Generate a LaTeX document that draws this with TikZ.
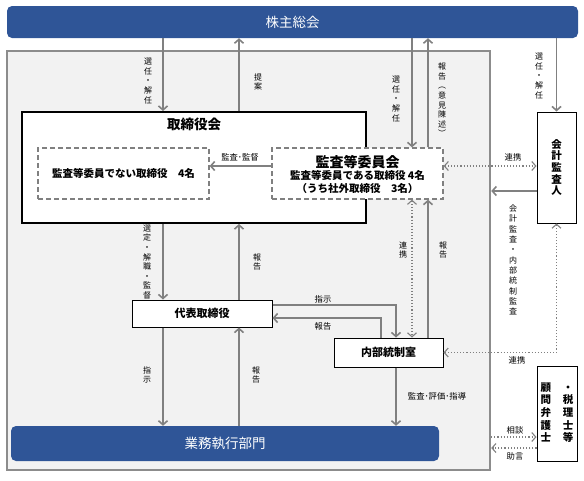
\documentclass[tikz,border=0pt]{standalone}
\usepackage{fontspec}
\setmainfont{Noto Sans CJK JP}
\usetikzlibrary{arrows.meta}
\definecolor{soukaiblue}{RGB}{47,85,151}
\definecolor{sengray}{RGB}{128,128,128}
\definecolor{wakugray}{RGB}{140,140,140}
\definecolor{wakubg}{RGB}{242,242,242}

\begin{document}
\begin{tikzpicture}[x=1pt,y=-1pt,
  aobox/.style={fill=soukaiblue,rounded corners=5pt,text=white,inner sep=0pt,font=\fontsize{13.5}{16}\selectfont},
  kurobox/.style={draw,line width=1pt,fill=white,inner sep=0pt,font=\bfseries\fontsize{11}{13}\selectfont},
  tenbox/.style={draw=sengray,dash pattern=on 5pt off 3pt,line width=1.3pt,fill=white,inner sep=0pt},
  ya/.style={draw=sengray,line width=1.6pt,-{Straight Barb[length=4pt,width=9pt]}},
  tenya/.style={draw=sengray,line width=1.1pt,dotted},
  moji/.style={inner sep=0pt,align=center,font=\fontsize{8}{9.6}\selectfont},
  yokomoji/.style={inner sep=0pt,font=\fontsize{8.3}{10}\selectfont}]
  \useasboundingbox (0,0) rectangle (584,480);

  \node[draw=wakugray,line width=2.5pt,fill=wakubg,minimum width=483pt,minimum height=419pt,inner sep=0pt] (kaisha) at (248.5,260.5) {};
  \node[aobox,minimum width=571pt,minimum height=32pt] (soukai) at (292.5,22) {株主総会};
  \node[draw,line width=2pt,fill=white,minimum width=344pt,minimum height=111pt,inner sep=0pt] (torikai) at (194,167.5) {};
  \node[inner sep=0pt,font=\bfseries\fontsize{13.5}{16}\selectfont] (torititle) at (194,124) {取締役会};
  \node[tenbox,minimum width=171pt,minimum height=51pt,font=\bfseries\fontsize{10.5}{13}\selectfont] (hikansa) at (123.5,173.5) {監査等委員でない取締役　4名};
  \node[tenbox,minimum width=171pt,minimum height=51pt] (kansaiin) at (357.5,173.5) {};
  \node[inner sep=0pt,align=center,font=\bfseries\fontsize{10.5}{12.5}\selectfont] (kansaitext) at (357.5,174) {{\fontsize{14}{16}\selectfont 監査等委員会}\\監査等委員である取締役 4名\\（うち社外取締役　3名）};
  \node[kurobox,minimum width=39pt,minimum height=111pt,align=center,font=\bfseries\fontsize{10.5}{11.7}\selectfont] (kaikei) at (556.5,167.5) {会\\計\\監\\査\\人};
  \node[kurobox,minimum width=140pt,minimum height=27pt] (daihyo) at (202,313.5) {代表取締役};
  \node[kurobox,minimum width=109pt,minimum height=29pt] (naibu) at (388.5,352.5) {内部統制室};
  \node[aobox,minimum width=428pt,minimum height=35pt] (gyomu) at (225,443.5) {業務執行部門};
  \node[kurobox,minimum width=40pt,minimum height=95pt,font=\bfseries\fontsize{10.5}{11.7}\selectfont] (komon) at (557,414)
    {\begin{tabular}{@{}c@{\hspace{12pt}}c@{}}顧&・\\問&税\\弁&理\\護&士\\士&等\end{tabular}};

  \coordinate (xa) at (163,0);
  \coordinate (xb) at (239,0);
  \coordinate (xc) at (396,0);
  \coordinate (xd) at (412,0);
  \coordinate (xe) at (428,0);
  \coordinate (xf) at (381,0);
  \coordinate (ya) at (0,166);
  \coordinate (yb) at (0,191);
  \coordinate (yc) at (0,305);
  \coordinate (yd) at (0,318);
  \coordinate (ye) at (0,437);
  \coordinate (yf) at (0,448);

  \draw[ya] (soukai.south -| xa) -- (torikai.north -| xa);
  \draw[ya] (torikai.north -| xb) -- (soukai.south -| xb);
  \draw[ya] (soukai.south -| xd) -- (kansaiin.north -| xd);
  \draw[ya] (kansaiin.north -| xe) -- (soukai.south -| xe);
  \draw[ya] (soukai.south -| kaikei) -- (kaikei.north);
  \draw[ya] (kansaiin.west |- ya) -- (hikansa.east |- ya);
  \draw[ya] (kaikei.west |- yb) -- (kaisha.east |- yb);
  \draw[ya] (torikai.south -| xa) -- (daihyo.north -| xa);
  \draw[ya] (daihyo.north -| xb) -- (torikai.south -| xb);
  \draw[ya] (daihyo.south -| xa) -- (gyomu.north -| xa);
  \draw[ya] (gyomu.north -| xb) -- (daihyo.south -| xb);
  \draw[ya] (daihyo.east |- yc) -| (naibu.north -| xc);
  \draw[ya] (naibu.north -| xf) |- (daihyo.east |- yd);
  \draw[ya] (naibu.north -| xe) -- (kansaiin.south -| xe);
  \draw[ya] (naibu.south -| xc) -- (gyomu.north -| xc);

  \draw[tenya,{Straight Barb[length=4pt,width=9pt]}-{Straight Barb[length=4pt,width=9pt]}] (kansaiin.east |- ya) -- (kaikei.west |- ya);
  \draw[tenya,{Straight Barb[length=4pt,width=9pt]}-{Straight Barb[length=4pt,width=9pt]}] (kansaiin.south -| xd) -- (naibu.north -| xd);
  \draw[tenya,{Straight Barb[length=4pt,width=9pt]}-{Straight Barb[length=4pt,width=9pt]}] (naibu.east) -| (kaikei.south);
  \draw[tenya,-{Straight Barb[length=4pt,width=9pt]}] (kaisha.east |- ye) -- (komon.west |- ye);
  \draw[tenya,-{Straight Barb[length=4pt,width=9pt]}] (komon.west |- yf) -- (kaisha.east |- yf);

  \node[moji] (l1) at (148,81) {選\\任\\・\\解\\任};
  \node[moji] (l2) at (258,82) {提\\案};
  \node[moji] (l3) at (396,99) {選\\任\\・\\解\\任};
  \node[moji] (l4) at (442,100) {報\\告\\︵\\意\\見\\陳\\述\\︶};
  \node[moji] (l5) at (539,76) {選\\任\\・\\解\\任};
  \node[moji] (l6) at (147,262) {選\\定\\・\\解\\職\\・\\監\\督};
  \node[moji] (l7) at (257,262) {報\\告};
  \node[moji] (l8) at (147,375) {指\\示};
  \node[moji] (l9) at (256,375) {報\\告};
  \node[moji] (l10) at (403,250) {連\\携};
  \node[moji] (l11) at (443,250) {報\\告};
  \node[moji,font=\fontsize{8}{10.3}\selectfont] (l12) at (513,260) {会\\計\\監\\査\\・\\内\\部\\統\\制\\監\\査};
  \node[yokomoji] (l13) at (240,157) {監査･監督};
  \node[yokomoji] (l14) at (513,157) {連携};
  \node[yokomoji] (l15) at (323,299) {指示};
  \node[yokomoji] (l16) at (323,326) {報告};
  \node[yokomoji] (l17) at (517,360) {連携};
  \node[yokomoji] (l18) at (437,396) {監査･評価･指導};
  \node[yokomoji] (l19) at (515,430) {相談};
  \node[yokomoji] (l20) at (515,456) {助言};
\end{tikzpicture}
\end{document}
